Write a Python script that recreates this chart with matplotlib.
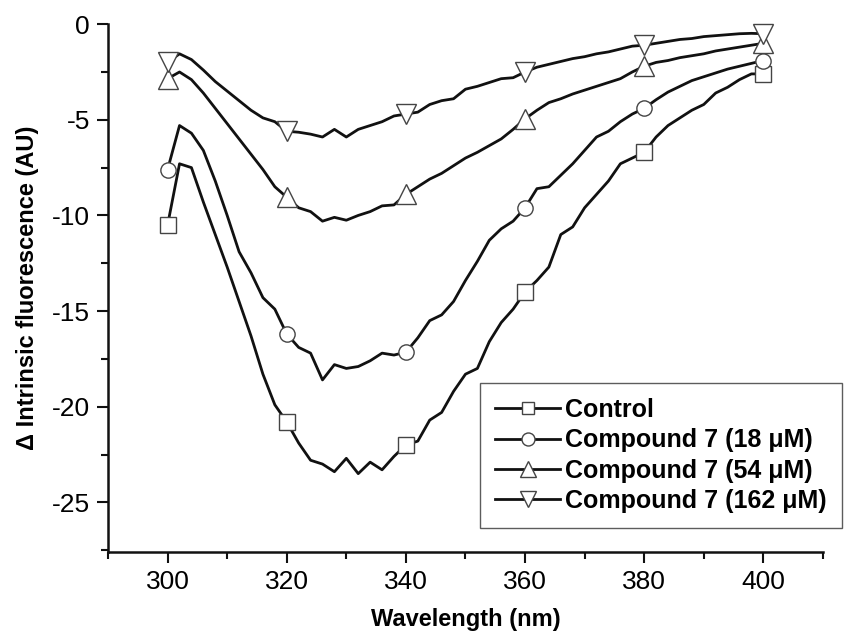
import numpy as np
import matplotlib
matplotlib.use("Agg")
import matplotlib.pyplot as plt
from matplotlib.ticker import MultipleLocator

plt.rcParams['font.family'] = ['Liberation Sans', 'DejaVu Sans']
plt.rcParams['axes.unicode_minus'] = False

# wavelength grid (nm), 2 nm steps
wavelength = np.arange(300, 401, 2)

control = [-10.5, -7.3, -7.5, -9.3, -11.0, -12.7, -14.5, -16.3, -18.3, -19.9,
           -20.8, -21.9, -22.8, -23.0, -23.4, -22.7, -23.5, -22.9, -23.3, -22.6,
           -22.0, -21.8, -20.7, -20.3, -19.2, -18.3, -18.0, -16.6, -15.6, -14.9,
           -14.0, -13.4, -12.7, -11.0, -10.6, -9.6, -8.9, -8.2, -7.3, -7.0,
           -6.7, -5.9, -5.3, -4.9, -4.5, -4.2, -3.6, -3.3, -2.9, -2.6,
           -2.6]

c7_18 = [-7.6, -5.3, -5.7, -6.6, -8.2, -10.0, -11.9, -13.0, -14.3, -14.9,
         -16.2, -16.9, -17.2, -18.6, -17.8, -18.0, -17.9, -17.6, -17.2, -17.3,
         -17.15, -16.4, -15.5, -15.2, -14.5, -13.4, -12.4, -11.3, -10.7, -10.3,
         -9.6, -8.6, -8.5, -7.9, -7.3, -6.6, -5.9, -5.6, -5.1, -4.7,
         -4.4, -3.95, -3.55, -3.25, -2.95, -2.75, -2.55, -2.35, -2.2, -2.05,
         -1.9]

c7_54 = [-2.85, -2.5, -2.9, -3.6, -4.4, -5.2, -6.0, -6.8, -7.6, -8.5,
         -9.05, -9.6, -9.8, -10.3, -10.1, -10.25, -10.0, -9.8, -9.5, -9.45,
         -8.9, -8.5, -8.1, -7.8, -7.4, -7.0, -6.7, -6.35, -6.0, -5.5,
         -4.95, -4.5, -4.1, -3.9, -3.65, -3.45, -3.25, -3.05, -2.85, -2.5,
         -2.2, -2.0, -1.9, -1.75, -1.65, -1.55, -1.4, -1.3, -1.2, -1.1,
         -1.0]

c7_162 = [-2.0, -1.55, -1.85, -2.4, -3.0, -3.5, -4.0, -4.5, -4.9, -5.1,
          -5.6, -5.65, -5.75, -5.9, -5.5, -5.9, -5.5, -5.3, -5.1, -4.8,
          -4.7, -4.6, -4.2, -4.0, -3.9, -3.4, -3.25, -3.05, -2.85, -2.8,
          -2.5, -2.25, -2.1, -1.95, -1.8, -1.7, -1.55, -1.45, -1.3, -1.15,
          -1.1, -1.0, -0.9, -0.8, -0.75, -0.65, -0.6, -0.55, -0.5, -0.48,
          -0.5]

labels = ['Control', 'Compound 7 (18 μM)', 'Compound 7 (54 μM)', 'Compound 7 (162 μM)']
markers = ['s', 'o', '^', 'v']
series = [control, c7_18, c7_54, c7_162]

fig = plt.figure(figsize=(8.44, 6.36), dpi=100)
ax = fig.add_axes([0.128, 0.132, 0.847, 0.830])

for y, m, lab in zip(series, markers, labels):
    ms = 14 if m in ('^', 'v') else 11
    ax.plot(wavelength, y, color='#111111', lw=2.0, marker=m, markevery=10,
            markersize=ms, markerfacecolor='white', markeredgecolor='#444444',
            markeredgewidth=1.0, label=lab, clip_on=False, zorder=3)

ax.set_xlim(290, 410)
ax.set_ylim(-27.6, 0)
ax.xaxis.set_minor_locator(MultipleLocator(10))
ax.yaxis.set_major_locator(MultipleLocator(5))
ax.yaxis.set_minor_locator(MultipleLocator(2.5))
ax.set_xticks([300, 320, 340, 360, 380, 400])

ax.spines['top'].set_visible(False)
ax.spines['right'].set_visible(False)
for s in ['left', 'bottom']:
    ax.spines[s].set_linewidth(1.8)
    ax.spines[s].set_color('#111111')

ax.tick_params(which='major', direction='out', length=8, width=1.5, labelsize=19, pad=5, color='#111111')
ax.tick_params(which='minor', direction='out', length=5, width=1.5, color='#111111')

ax.set_xlabel('Wavelength (nm)', fontsize=17, fontweight='bold', labelpad=10)
ax.set_ylabel('Δ Intrinsic fluorescence (AU)', fontsize=17, fontweight='bold', labelpad=9)

leg = ax.legend(loc='lower left', bbox_to_anchor=(0.569, 0.170), bbox_transform=fig.transFigure,
                borderaxespad=0, frameon=True, fancybox=False, edgecolor='#333333',
                handlelength=2.6, handletextpad=0.2, labelspacing=0.25, borderpad=0.6,
                markerscale=0.85, prop={'weight': 'bold', 'size': 18})
leg.get_frame().set_linewidth(1.0)

fig.savefig('out.png', dpi=100)
